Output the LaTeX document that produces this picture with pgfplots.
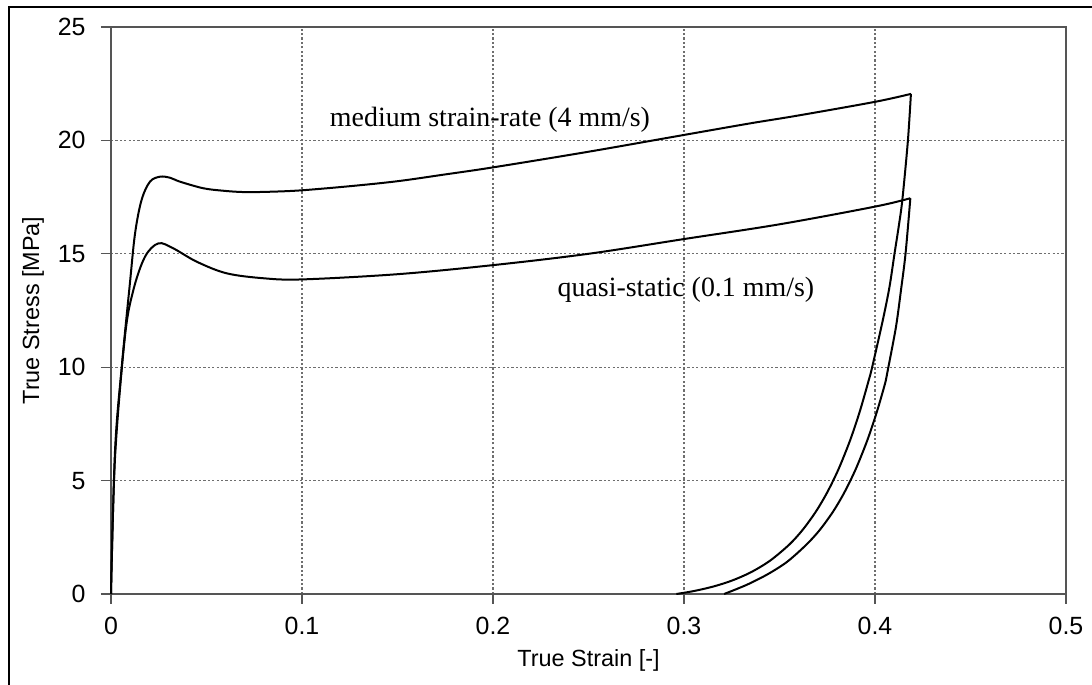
\documentclass[border=0pt]{standalone}
\usepackage{pgfplots}
\pgfplotsset{compat=1.18}
\usepackage{fontspec}
\setmainfont{Liberation Sans}
\newfontfamily\seriffont{Liberation Serif}
\definecolor{axgray}{RGB}{85,85,85}
\definecolor{gridgray}{RGB}{110,110,110}
\begin{document}
\begin{tikzpicture}[x=1bp,y=1bp]
\path[use as bounding box] (0,0) rectangle (1092,685);
\draw[black, line width=1.2bp] (9,-2) -- (9,678) -- (1094,678);
\begin{axis}[
  at={(111bp,91bp)}, anchor=south west,
  scale only axis, width=955bp, height=567bp,
  xmin=0, xmax=0.5, ymin=0, ymax=25,
  xtick={0,0.1,0.2,0.3,0.4,0.5},
  ytick={0,5,10,15,20,25},
  xticklabels={0,0.1,0.2,0.3,0.4,0.5},
  yticklabels={0,5,10,15,20,25},
  xtick pos=bottom, ytick pos=left,
  tick align=outside,
  major tick length=10bp,
  every tick/.style={axgray, line width=1.2bp},
  axis line style={axgray, line width=1.3bp},
  grid=major,
  major grid style={gridgray, line width=1.1bp, dash pattern=on 2.2bp off 2.2bp},
  ticklabel style={font=\fontsize{25}{30}\selectfont},
  /pgf/number format/assume math mode=true,
  xticklabel style={yshift=-10bp},
  yticklabel style={xshift=-12bp},
  xlabel={True Strain [-]},
  ylabel={True Stress [MPa]},
  every axis x label/.style={at={(axis description cs:0.5,-0.1164)}, anchor=center, font=\fontsize{23.5}{28}\selectfont},
  every axis y label/.style={at={(axis description cs:-0.0817,0.5)}, rotate=90, anchor=center, font=\fontsize{23.5}{28}\selectfont},
  clip=false,
]
% medium strain-rate loading
\addplot[black, line width=2bp, smooth, tension=0.55] coordinates {
(0,0) (0.0021,6.3) (0.0056,10.0) (0.0099,13.7) (0.0126,15.9) (0.016,17.37)
(0.0204,18.18) (0.0257,18.4) (0.031,18.35) (0.0361,18.18) (0.0483,17.89)
(0.0588,17.78) (0.07,17.72) (0.085,17.74) (0.1,17.8) (0.125,17.98) (0.15,18.2)
(0.175,18.5) (0.2,18.81) (0.25,19.5) (0.3,20.24) (0.3346,20.75) (0.36,21.1)
(0.4,21.7) (0.4188,22.05)
};
% medium strain-rate unloading
\addplot[black, line width=2bp, smooth, tension=0.5] coordinates {
(0.4188,22.05) (0.4172,19.97) (0.4143,17.37) (0.4124,16.2) (0.4102,15.0)
(0.4075,13.5) (0.4039,12.0) (0.3985,10.0) (0.3966,9.39) (0.392,8.04)
(0.387,6.785) (0.381,5.523) (0.375,4.484) (0.369,3.627) (0.362,2.816)
(0.355,2.17) (0.345,1.466) (0.335,0.957) (0.325,0.588) (0.315,0.321)
(0.305,0.128) (0.296,0)
};
% quasi-static loading
\addplot[black, line width=2bp, smooth, tension=0.55] coordinates {
(0,0) (0.0021,6.0) (0.0073,11.35) (0.0117,13.4) (0.0178,14.87) (0.0248,15.46)
(0.0326,15.24) (0.0449,14.65) (0.0605,14.14) (0.08,13.92) (0.1,13.87)
(0.15,14.1) (0.2,14.5) (0.25,15.0) (0.3,15.65) (0.35,16.3) (0.4,17.08)
(0.4185,17.45)
};
% quasi-static unloading
\addplot[black, line width=2bp, smooth, tension=0.5] coordinates {
(0.4185,17.45) (0.416,15.02) (0.4136,13.4) (0.411,11.79) (0.407,10.0)
(0.4056,9.39) (0.401,8.04) (0.396,6.785) (0.390,5.523) (0.384,4.484)
(0.378,3.627) (0.371,2.816) (0.364,2.17) (0.354,1.42) (0.344,0.88)
(0.334,0.45) (0.327,0.2) (0.321,0)
};
\node[anchor=base, font=\seriffont\fontsize{28}{32}\selectfont, inner sep=0pt] at (axis cs:0.1984,20.63) {medium strain-rate (4 mm/s)};
\node[anchor=base, font=\seriffont\fontsize{28}{32}\selectfont, inner sep=0pt] at (axis cs:0.301,13.11) {quasi-static (0.1 mm/s)};
\end{axis}
\end{tikzpicture}
\end{document}
